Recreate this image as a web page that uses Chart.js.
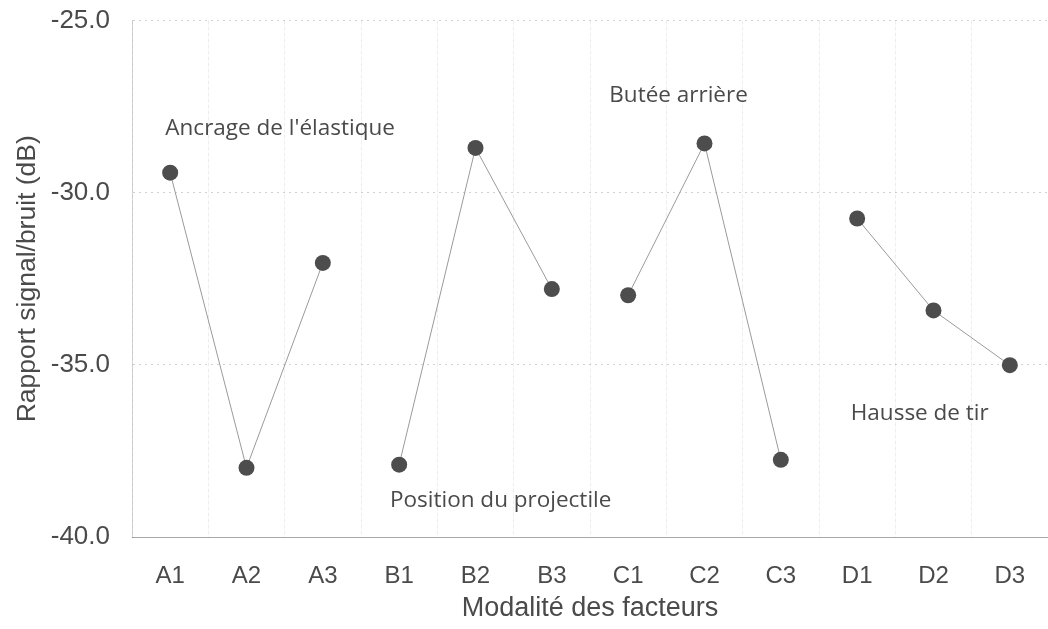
<!DOCTYPE html>
<html>
<head>
<meta charset="utf-8">
<script src="https://cdn.jsdelivr.net/npm/chart.js@4/dist/chart.umd.min.js"></script>
<style>
  html, body { margin: 0; padding: 0; background: #fff; overflow: hidden; }
  #wrap { width: 1056px; height: 629px; }
</style>
</head>
<body>
<div id="wrap"><canvas id="snChart" width="1056" height="629"></canvas></div>
<script>
// modalites des facteurs (4 facteurs x 3 niveaux)
const modalites = ['A1', 'A2', 'A3', 'B1', 'B2', 'B3', 'C1', 'C2', 'C3', 'D1', 'D2', 'D3'];
const rapportSN = [-29.42, -37.99, -32.04, -37.90, -28.70, -32.80, -32.98, -28.57, -37.76, -30.75, -33.42, -35.01];
const niveauxParFacteur = 3;

// noms des facteurs, places en coordonnees du graphique (index categorie, dB)
const facteurs = ["Ancrage de l'élastique", 'Position du projectile', 'Butée arrière', 'Hausse de tir'];
const facteursX = [1.44, 4.33, 6.66, 9.82];
const facteursY = [-28.13, -38.94, -27.19, -36.41];

const yMin = -40, yMax = -25;

const grisTexte = '#4a4a4a';
const police = '"Liberation Sans", Arial, sans-serif';

// petit plugin pour ecrire le nom de chaque facteur
const nomsFacteurs = {
    id: 'nomsFacteurs',
    afterDatasetsDraw(chart) {
        const ctx = chart.ctx;
        const xs = chart.scales.x, ys = chart.scales.y;
        ctx.save();
        ctx.font = '22.5px "Open Sans", sans-serif';
        ctx.fillStyle = grisTexte;
        ctx.textAlign = 'center';
        ctx.textBaseline = 'middle';
        facteurs.forEach((nom, i) => {
            ctx.fillText(nom, xs.getPixelForValue(facteursX[i]), ys.getPixelForValue(facteursY[i]));
        });
        ctx.restore();
    }
};

const ctx = document.getElementById('snChart').getContext('2d');
new Chart(ctx, {
    type: 'line',
    data: {
        labels: modalites,
        datasets: [{
            label: 'Rapport signal/bruit',
            data: rapportSN,
            borderColor: '#9a9a9a',
            borderWidth: 1,
            pointRadius: 8,
            pointBackgroundColor: '#4d4d4d',
            pointBorderColor: '#4d4d4d',
            pointBorderWidth: 0,
            tension: 0,
            segment: {
                // pas de trait entre deux facteurs differents
                borderColor: c => (c.p0DataIndex % niveauxParFacteur === niveauxParFacteur - 1) ? 'rgba(0,0,0,0)' : '#9a9a9a'
            }
        }]
    },
    plugins: [nomsFacteurs],
    options: {
        responsive: false,
        animation: false,
        layout: { padding: 0 },
        plugins: {
            legend: { display: false },
            tooltip: { enabled: false }
        },
        scales: {
            x: {
                type: 'category',
                offset: true,
                grid: {
                    offset: true,
                    drawTicks: false,
                    color: 'rgba(0,0,0,0.07)',
                    lineWidth: 1
                },
                border: { display: true, color: '#a8a8a8', dash: [4, 2] },
                ticks: {
                    color: grisTexte,
                    font: { family: police, size: 24 },
                    padding: 25,
                    maxRotation: 0
                },
                title: {
                    display: true,
                    text: 'Modalité des facteurs',
                    color: grisTexte,
                    font: { family: police, size: 27 },
                    padding: { top: 0, bottom: 4 }
                },
                afterFit(scale) { scale.height = 92; }
            },
            y: {
                min: yMin,
                max: yMax,
                grid: {
                    drawTicks: false,
                    color: 'rgba(0,0,0,0.18)',
                    lineWidth: 1
                },
                border: { display: true, color: 'rgba(0,0,0,0.15)', dash: [2, 4] },
                ticks: {
                    stepSize: 5,
                    color: grisTexte,
                    font: { family: police, size: 26 },
                    padding: 22,
                    callback: v => v.toFixed(1)
                },
                title: {
                    display: true,
                    text: 'Rapport signal/bruit (dB)',
                    color: grisTexte,
                    font: { family: police, size: 26.5 },
                    padding: { top: 12, bottom: 0 }
                },
                afterFit(scale) {
                    scale.width = 132;
                    scale.paddingTop = 20.5;
                }
            }
        }
    }
});
</script>
</body>
</html>
